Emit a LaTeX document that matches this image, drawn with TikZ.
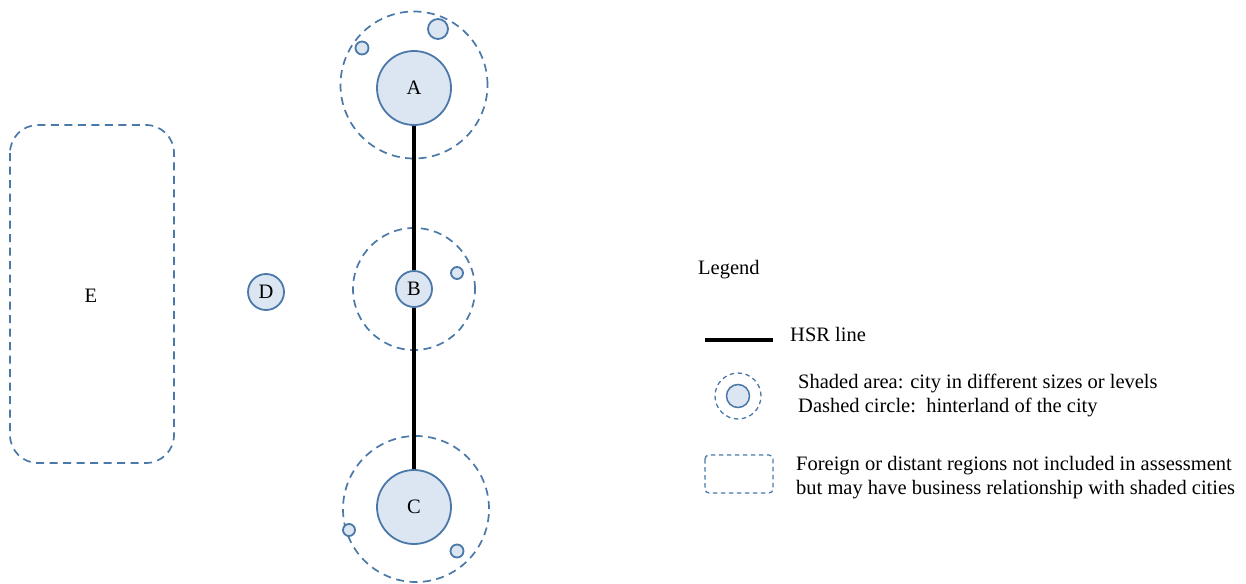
\documentclass[tikz,border=0pt]{standalone}
\usepackage{fontspec}
\setmainfont{Liberation Serif}
\definecolor{cityfill}{HTML}{DCE6F2}
\definecolor{citydraw}{HTML}{4A78A8}
\tikzset{
  city/.style={circle, draw=citydraw, fill=cityfill, line width=1.8pt, inner sep=0pt, minimum size=#1},
  hinter/.style={circle, draw=citydraw, line width=1.7pt, dash pattern=on 8pt off 5.5pt, inner sep=0pt, minimum size=#1},
  region/.style={draw=citydraw, line width=1.7pt, dash pattern=on 8pt off 5.5pt, rounded corners=#1},
  hsr/.style={line width=4pt, black},
  lbl/.style={font=\fontsize{20.5}{24}\selectfont, inner sep=0pt},
  txt/.style={font=\fontsize{20.5}{24}\selectfont, inner sep=0pt, anchor=west, align=left}
}
\begin{document}
\begin{tikzpicture}[x=1pt,y=-1pt]
\useasboundingbox (0,0) rectangle (1246,583);
% hinterlands
\node[hinter=147pt] (hA) at (414,85) {};
\node[hinter=122pt] (hB) at (414,289) {};
\node[hinter=146pt] (hC) at (416,509) {};
% cities
\node[city=74pt] (A) at (414,88) {};
\node[city=74pt] (C) at (414,507) {};
\node[city=36pt] (B) at (414,289) {};
% HSR line
\draw[hsr] (A.south) -- (B.north);
\draw[hsr] (B.south) -- (C.north);
\node[lbl] at (A) {A};
\node[lbl] at (B) {B};
\node[lbl] at (C) {C};
% small cities
\node[city=20pt] (a1) at (438,29) {};
\node[city=13pt] (a2) at (362,48) {};
\node[city=12pt] (b1) at (457,273) {};
\node[city=12pt] (c1) at (349,530) {};
\node[city=13pt] (c2) at (457,551) {};
% D
\node[city=36pt] (D) at (266,292) {};
\node[lbl] at (D) {D};
% E
\draw[region=28pt] (10,125) rectangle (174,463);
\node[lbl] (E) at (91,296) {E};
% Legend
\node[txt] (leg) at (698,270) {Legend};
\coordinate (l1a) at (705,340);
\coordinate (l1b) at (773,340);
\draw[hsr] (l1a) -- (l1b);
\node[txt] (t1) at (790,334) {HSR line};
\node[hinter=46pt, line width=1.3pt, dash pattern=on 4.5pt off 3.5pt] (lh) at (738,396) {};
\node[city=23pt, line width=1.5pt] (lc) at (738,396) {};
\node[txt] (t2) at (798,395) {Shaded area: city in different sizes or levels\\Dashed circle:\ \ hinterland of the city};
\draw[region=4pt, line width=1.3pt, dash pattern=on 4.5pt off 3.5pt] (705,455) rectangle (773,493);
\node[txt] (t3) at (796,478) {Foreign or distant regions not included in assessment\\but may have business relationship with shaded cities};
\end{tikzpicture}
\end{document}
